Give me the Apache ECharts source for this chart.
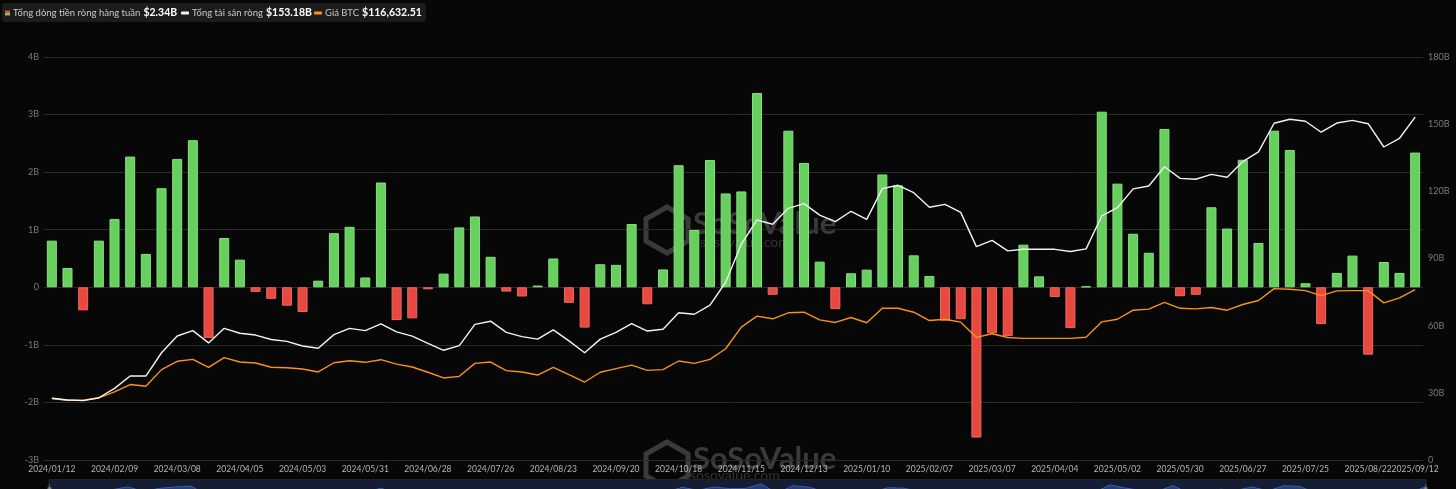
<!DOCTYPE html>
<html>
<head>
<meta charset="utf-8">
<script src="https://cdn.jsdelivr.net/npm/echarts@6/dist/echarts.min.js"></script>
<style>
html,body{margin:0;padding:0;background:#070707;}
#c{width:1456px;height:489px;}
</style>
</head>
<body>
<div id="c"></div>
<script>
const dates = ['2024/01/12','2024/01/19','2024/01/26','2024/02/02','2024/02/09','2024/02/16','2024/02/23','2024/03/01','2024/03/08','2024/03/15','2024/03/22','2024/03/29','2024/04/05','2024/04/12','2024/04/19','2024/04/26','2024/05/03','2024/05/10','2024/05/17','2024/05/24','2024/05/31','2024/06/07','2024/06/14','2024/06/21','2024/06/28','2024/07/05','2024/07/12','2024/07/19','2024/07/26','2024/08/02','2024/08/09','2024/08/16','2024/08/23','2024/08/30','2024/09/06','2024/09/13','2024/09/20','2024/09/27','2024/10/04','2024/10/11','2024/10/18','2024/10/25','2024/11/01','2024/11/08','2024/11/15','2024/11/22','2024/11/29','2024/12/06','2024/12/13','2024/12/20','2024/12/27','2025/01/03','2025/01/10','2025/01/17','2025/01/24','2025/01/31','2025/02/07','2025/02/14','2025/02/21','2025/02/28','2025/03/07','2025/03/14','2025/03/21','2025/03/28','2025/04/04','2025/04/11','2025/04/18','2025/04/25','2025/05/02','2025/05/09','2025/05/16','2025/05/23','2025/05/30','2025/06/06','2025/06/13','2025/06/20','2025/06/27','2025/07/04','2025/07/11','2025/07/18','2025/07/25','2025/08/01','2025/08/08','2025/08/15','2025/08/22','2025/08/29','2025/09/05','2025/09/12'];

// weekly net inflow, billions USD
const weeklyFlowB = [0.81,0.335,-0.40,0.81,1.185,2.27,0.58,1.72,2.23,2.555,-0.88,0.855,0.48,-0.08,-0.20,-0.32,-0.43,0.115,0.94,1.05,0.17,1.82,-0.57,-0.54,-0.035,0.237,1.04,1.23,0.53,-0.075,-0.16,0.03,0.50,-0.27,-0.70,0.40,0.39,1.10,-0.295,0.31,2.12,0.995,2.21,1.63,1.665,3.375,-0.13,2.72,2.16,0.445,-0.38,0.243,0.306,1.96,1.77,0.555,0.197,-0.58,-0.555,-2.61,-0.80,-0.845,0.74,0.19,-0.17,-0.71,0.015,3.05,1.80,0.93,0.60,2.75,-0.155,-0.13,1.39,1.02,2.215,0.77,2.72,2.385,0.07,-0.64,0.25,0.55,-1.17,0.44,0.25,2.34];

// total net assets, billions USD
const totalAssetsB = [27.6,26.8,26.5,27.8,32.0,37.5,37.5,47.9,55.4,57.8,52.3,58.8,56.6,55.8,53.8,53.0,50.9,49.9,56.0,58.8,57.8,60.8,57.2,55.3,52.1,49.0,51.1,60.6,62.0,57.0,55.1,54.0,58.1,53.2,47.9,54.0,57.0,60.9,57.6,58.4,65.8,65.1,69.2,79.4,96.4,107.2,105.3,112.4,114.5,109.4,106.5,111.1,107.5,121.2,122.7,119.4,112.9,114.2,110.6,95.3,98.1,93.4,94.1,94.1,94.1,93.1,94.3,109.0,112.7,121.1,122.4,131.0,125.8,125.4,127.6,126.3,133.3,137.6,150.4,152.2,151.3,146.4,150.5,151.7,150.2,139.8,143.7,153.18];

// BTC price, thousands USD
const btcPriceK = [42.1,40.9,40.9,42.5,46.6,51.7,50.5,61.9,67.6,68.9,63.5,70.1,67.1,66.4,63.5,63.2,62.3,60.3,66.6,68.0,66.9,68.7,65.7,63.7,60.1,56.2,57.3,66.2,67.1,61.2,60.3,58.2,63.5,58.5,53.4,60.1,62.6,65.0,61.4,61.9,67.8,66.2,68.9,76.2,91.0,98.5,96.7,100.8,101.2,96.0,94.2,97.6,94.0,103.9,103.9,101.2,95.5,96.4,94.4,84.0,86.5,83.9,83.3,83.3,83.3,83.3,84.1,94.6,96.4,102.6,103.3,108.0,103.9,103.5,104.4,102.6,106.5,109.2,117.4,116.9,116.0,112.6,115.8,116.0,116.0,107.6,111.0,116.63];

const seriesNames = ['Tổng dòng tiền ròng hàng tuần','Tổng tài sản ròng','Giá BTC'];
const legendValues = ['$2.34B','$153.18B','$116,632.51'];
const leftTicks = {min:-3, max:4, interval:1};
const rightTicks = {min:0, max:180, interval:30};

const GREEN = '#66cf5e', RED = '#e8483f', WHITE = '#f2f2f2', ORANGE = '#f7931a';
const FONT = 'Lato, "Noto Sans", sans-serif';

const chart = echarts.init(document.getElementById('c'), null, {renderer:'canvas'});

function mkLegend(i, left, iconOpts){
  return Object.assign({
    show:true, left:left, top:3, padding:[4,4,3,3],
    backgroundColor:'#1c1c1c', borderRadius:3,
    itemGap:0, selectedMode:false,
    formatter: n => '{n|' + n + '} {v|' + legendValues[seriesNames.indexOf(n)] + '}',
    textStyle:{ fontFamily:FONT, padding:[0,0,0,-2], rich:{
      n:{color:'#c8c8c8', fontSize:9.5, fontFamily:FONT},
      v:{color:'#ffffff', fontSize:10.5, fontWeight:'bold', fontFamily:FONT}
    }}
  }, iconOpts);
}

const option = {
  backgroundColor:'#070707',
  animation:false,
  textStyle:{fontFamily:FONT},
  legend:[
    mkLegend(0, 2, {itemWidth:5, itemHeight:5, data:[{name:seriesNames[0], icon:'rect',
      itemStyle:{color:{type:'linear',x:0,y:0,x2:0,y2:1,colorStops:[{offset:0,color:RED},{offset:0.5,color:RED},{offset:0.5,color:GREEN},{offset:1,color:GREEN}]}}}]}),
    mkLegend(1, 178, {itemWidth:8, itemHeight:3, data:[{name:seriesNames[1], icon:'roundRect', itemStyle:{color:WHITE}}]}),
    mkLegend(2, 311, {itemWidth:8, itemHeight:3, data:[{name:seriesNames[2], icon:'roundRect', itemStyle:{color:ORANGE}}]})
  ],
  graphic:[
    {type:'text', left:693, top:208, z:0, silent:true, style:{text:'SoSoValue', fill:'#3a3a3a', font:'bold 31px ' + FONT}},
    {type:'text', left:700, top:235, z:0, silent:true, style:{text:'sosovalue.com', fill:'#333', font:'14px ' + FONT}},
    {type:'polygon', z:0, silent:true, shape:{points:[[667,207],[688,219],[688,241],[667,253],[646,241],[646,219]]}, style:{fill:'none', stroke:'#3a3a3a', lineWidth:5}},
    {type:'text', left:693, top:443, z:0, silent:true, style:{text:'SoSoValue', fill:'#3a3a3a', font:'bold 31px ' + FONT}},
    {type:'text', left:690, top:468, z:0, silent:true, style:{text:'sosovalue.com', fill:'#333', font:'14px ' + FONT}},
    {type:'polygon', z:0, silent:true, shape:{points:[[667,442],[688,454],[688,476],[667,488],[646,476],[646,454]]}, style:{fill:'none', stroke:'#3a3a3a', lineWidth:5}}
  ],
  grid:{left:44, right:33, top:57, bottom:29, containLabel:false},
  xAxis:{
    type:'category', data:dates, boundaryGap:true, position:'bottom',
    axisLine:{show:false, onZero:false}, axisTick:{show:false},
    axisLabel:{color:'#b5b5b5', fontSize:8.5, margin:5, fontFamily:FONT, hideOverlap:false,
      showMaxLabel:true, showMinLabel:true,
      interval:(idx)=> idx % 4 === 0 || idx === dates.length - 1}
  },
  yAxis:[
    {type:'value', position:'left', min:leftTicks.min*1e9, max:leftTicks.max*1e9, interval:leftTicks.interval*1e9,
      axisLine:{show:false}, axisTick:{show:false},
      splitLine:{lineStyle:{color:'#2a2a2a', width:1}},
      axisLabel:{color:'#7a7a7a', fontSize:9, margin:5, fontFamily:FONT, formatter:v=> v===0 ? '0' : (v/1e9)+'B'}},
    {type:'value', position:'right', min:rightTicks.min*1e9, max:rightTicks.max*1e9, interval:rightTicks.interval*1e9,
      axisLine:{show:false}, axisTick:{show:false}, splitLine:{show:false},
      axisLabel:{color:'#7a7a7a', fontSize:9, margin:5, fontFamily:FONT, formatter:v=> v===0 ? '0' : (v/1e9)+'B'}},
    {type:'value', show:false, min:0, max:276, position:'right', offset:0, splitLine:{show:false}}
  ],
  dataZoom:[{
    type:'slider', xAxisIndex:0, left:46, right:32, top:479, height:26,
    showDetail:false, brushSelect:false,
    backgroundColor:'#0e1322', borderColor:'#1b2235',
    fillerColor:'rgba(60,90,160,0.15)',
    dataBackground:{lineStyle:{color:'#3d5da8', width:1}, areaStyle:{color:'#22386e', opacity:1}},
    selectedDataBackground:{lineStyle:{color:'#3d5da8', width:1}, areaStyle:{color:'#22386e', opacity:1}},
    handleSize:'60%', handleStyle:{color:'#888', borderColor:'#666'},
    moveHandleSize:0
  }],
  series:[
    {name:seriesNames[0], type:'bar', yAxisIndex:0, barWidth:10, z:2,
      data: weeklyFlowB.map(v => ({value: v*1e9, itemStyle:{color: v>=0 ? GREEN : RED, borderColor: v>=0 ? '#86e27c' : '#f06a60', borderWidth:1}}))},
    {name:seriesNames[1], type:'line', yAxisIndex:1, z:4, symbol:'none', smooth:false,
      lineStyle:{color:WHITE, width:1.4}, itemStyle:{color:WHITE},
      data: totalAssetsB.map(v => v*1e9)},
    {name:seriesNames[2], type:'line', yAxisIndex:2, z:3, symbol:'none', smooth:false,
      lineStyle:{color:ORANGE, width:1.4}, itemStyle:{color:ORANGE},
      data: btcPriceK}
  ]
};
chart.setOption(option);
</script>
</body>
</html>
